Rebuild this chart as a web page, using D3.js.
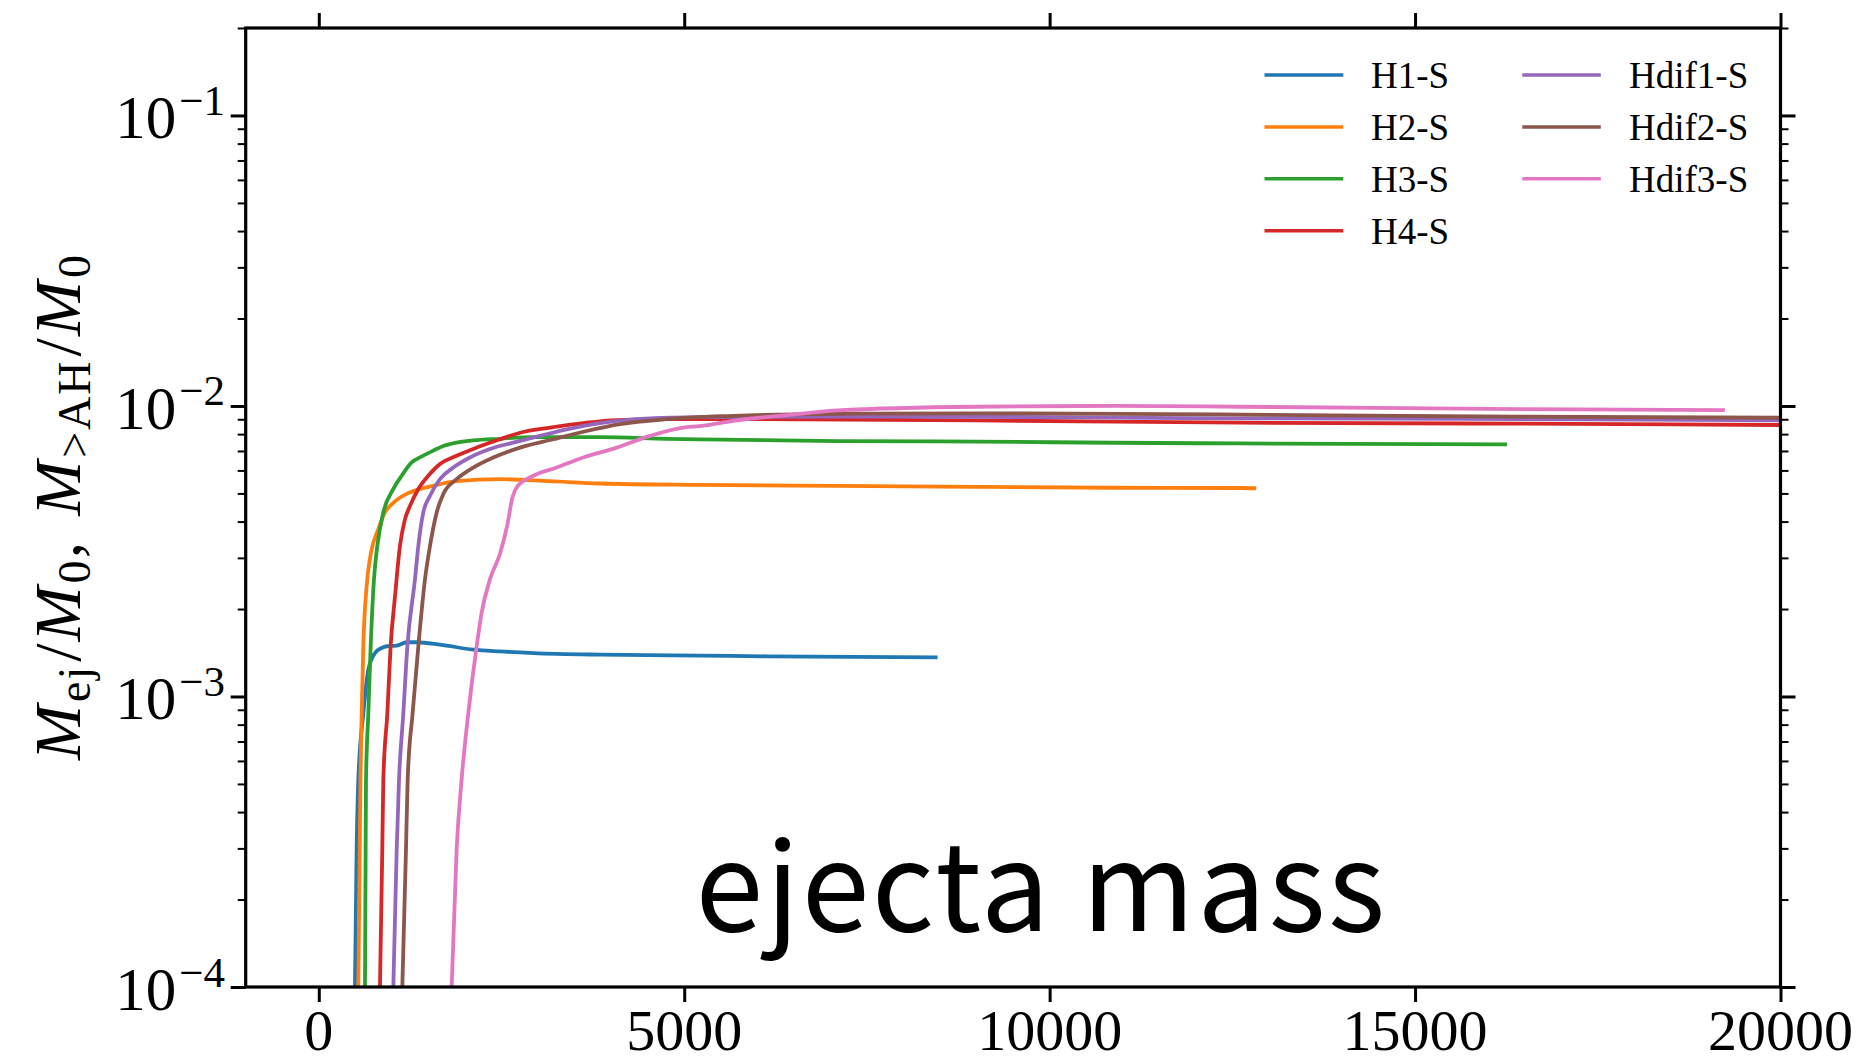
<!DOCTYPE html>
<html>
<head>
<meta charset="utf-8">
<script src="https://cdn.jsdelivr.net/npm/d3@7"></script>
<style>
  html, body { margin: 0; padding: 0; background: #ffffff; }
  svg { display: block; }
</style>
</head>
<body>
<svg id="chart" width="1865" height="1063"></svg>
<script>
// Ejecta mass fraction vs. time for the seven simulation runs.
const seriesNames = ["H1-S", "H2-S", "H3-S", "H4-S", "Hdif1-S", "Hdif2-S", "Hdif3-S"];
const seriesColors = ["#1f77b4", "#ff7f0e", "#2ca02c", "#d62728", "#9467bd", "#8c564b", "#e377c2"];

const h1Time = [495, 518, 541, 610, 678, 770, 861, 929, 1066, 1202, 1339, 1658, 2114, 2479, 2935, 3847, 5215, 6128, 8467];
const h1Mass = [1.0e-4, 2.97e-4, 5.17e-4, 8.77e-4, 1.237e-3, 1.412e-3, 1.469e-3, 1.489e-3, 1.496e-3, 1.537e-3, 1.537e-3, 1.509e-3, 1.449e-3, 1.429e-3, 1.411e-3, 1.393e-3, 1.382e-3, 1.375e-3, 1.364e-3];

const h2Time = [541, 560, 570, 587, 609, 655, 714, 815, 906, 1020, 1202, 1384, 1567, 1886, 2479, 3163, 3847, 5215, 7100, 8985, 10866, 12604, 12827];
const h2Mass = [1.0e-4, 2.97e-4, 5.17e-4, 8.77e-4, 1.489e-3, 2.40e-3, 3.12e-3, 3.77e-3, 4.30e-3, 4.64e-3, 4.98e-3, 5.18e-3, 5.31e-3, 5.51e-3, 5.60e-3, 5.51e-3, 5.41e-3, 5.35e-3, 5.31e-3, 5.27e-3, 5.23e-3, 5.22e-3, 5.21e-3];

const h3Time = [632, 641, 646, 678, 710, 755, 801, 883, 1020, 1134, 1270, 1384, 1567, 1704, 1886, 2114, 2479, 2935, 3847, 4759, 5215, 7100, 8985, 10866, 12604, 16257];
const h3Mass = [1.0e-4, 2.97e-4, 5.17e-4, 8.77e-4, 1.489e-3, 2.53e-3, 3.30e-3, 4.30e-3, 5.18e-3, 5.75e-3, 6.40e-3, 6.65e-3, 7.02e-3, 7.28e-3, 7.48e-3, 7.61e-3, 7.71e-3, 7.81e-3, 7.81e-3, 7.71e-3, 7.67e-3, 7.57e-3, 7.54e-3, 7.47e-3, 7.43e-3, 7.37e-3];

const h4Time = [837, 869, 883, 938, 983, 1043, 1111, 1179, 1248, 1362, 1498, 1658, 1886, 2160, 2479, 2753, 3163, 3619, 4075, 4759, 6583, 8985, 10866, 12604, 16404, 20000];
const h4Mass = [1.0e-4, 2.97e-4, 5.17e-4, 8.77e-4, 1.489e-3, 2.21e-3, 3.30e-3, 4.07e-3, 4.53e-3, 5.18e-3, 5.75e-3, 6.31e-3, 6.74e-3, 7.19e-3, 7.68e-3, 8.09e-3, 8.43e-3, 8.73e-3, 8.94e-3, 9.01e-3, 9.00e-3, 8.92e-3, 8.83e-3, 8.76e-3, 8.69e-3, 8.60e-3];

const hdif1Time = [1020, 1066, 1098, 1157, 1212, 1316, 1362, 1430, 1522, 1658, 1840, 2068, 2342, 2661, 3026, 3391, 3847, 4531, 5215, 7100, 8985, 10866, 12604, 16404, 20000];
const hdif1Mass = [1.0e-4, 2.97e-4, 5.17e-4, 8.77e-4, 1.489e-3, 2.53e-3, 3.30e-3, 4.30e-3, 4.91e-3, 5.60e-3, 6.14e-3, 6.65e-3, 7.11e-3, 7.48e-3, 7.89e-3, 8.31e-3, 8.73e-3, 9.06e-3, 9.15e-3, 9.19e-3, 9.18e-3, 9.12e-3, 9.07e-3, 9.02e-3, 8.92e-3];

const hdif2Time = [1143, 1193, 1216, 1284, 1362, 1453, 1522, 1613, 1704, 1886, 2114, 2388, 2753, 3209, 3665, 4121, 4759, 5671, 7100, 8985, 10866, 12604, 16404, 20000];
const hdif2Mass = [1.0e-4, 2.97e-4, 5.17e-4, 8.77e-4, 1.489e-3, 2.53e-3, 3.30e-3, 4.30e-3, 4.98e-3, 5.60e-3, 6.14e-3, 6.65e-3, 7.19e-3, 7.68e-3, 8.20e-3, 8.66e-3, 9.01e-3, 9.25e-3, 9.40e-3, 9.43e-3, 9.40e-3, 9.34e-3, 9.19e-3, 9.11e-3];

const hdif3Time = [1818, 1886, 1954, 2046, 2160, 2228, 2342, 2479, 2580, 2650, 2720, 2935, 3254, 3619, 4075, 4531, 4987, 5215, 5671, 6583, 7100, 8985, 10866, 12604, 16404, 19239];
const hdif3Mass = [1.0e-4, 2.97e-4, 5.17e-4, 8.77e-4, 1.489e-3, 1.94e-3, 2.53e-3, 3.10e-3, 3.90e-3, 4.85e-3, 5.30e-3, 5.75e-3, 6.14e-3, 6.65e-3, 7.19e-3, 7.89e-3, 8.43e-3, 8.52e-3, 8.89e-3, 9.39e-3, 9.66e-3, 9.94e-3, 1.0e-2, 9.94e-3, 9.76e-3, 9.68e-3];

const seriesTimes = [h1Time, h2Time, h3Time, h4Time, hdif1Time, hdif2Time, hdif3Time];
const seriesMasses = [h1Mass, h2Mass, h3Mass, h4Mass, hdif1Mass, hdif2Mass, hdif3Mass];

const xDomain = [-1000, 20000];
const yDomain = [1e-4, 0.2];
const xTickValues = [0, 5000, 10000, 15000, 20000];
const xTickLabels = ["0", "5000", "10000", "15000", "20000"];
const yTickValues = [1e-4, 1e-3, 1e-2, 1e-1];
const yTickExponents = ["\u22124", "\u22123", "\u22122", "\u22121"];
const annotation = "ejecta mass";

// ---- layout ----
const plot = { left: 245.7, right: 1780.5, top: 28, bottom: 987 };
const serif = "'Liberation Serif', 'Times New Roman', serif";

const svg = d3.select("#chart");
svg.append("rect").attr("width", 1865).attr("height", 1063).attr("fill", "#ffffff");

const x = d3.scaleLinear().domain(xDomain).range([plot.left, plot.right]);
const y = d3.scaleLog().domain(yDomain).range([plot.bottom, plot.top]);

svg.append("defs").append("clipPath").attr("id", "plotClip")
  .append("rect")
  .attr("x", plot.left).attr("y", plot.top)
  .attr("width", plot.right - plot.left).attr("height", plot.bottom - plot.top);

// ---- series lines ----
const line = d3.line()
  .x(d => x(d[0]))
  .y(d => y(d[1]))
  .curve(d3.curveMonotoneX);

const lines = svg.append("g").attr("clip-path", "url(#plotClip)");
seriesNames.forEach((name, i) => {
  const pts = seriesTimes[i].map((t, k) => [t, seriesMasses[i][k]]);
  lines.append("path")
    .datum(pts)
    .attr("d", line)
    .attr("fill", "none")
    .attr("stroke", seriesColors[i])
    .attr("stroke-width", 3.8)
    .attr("stroke-linejoin", "round")
    .attr("stroke-linecap", "butt");
});

// ---- annotation ----
svg.append("text")
  .attr("x", 1041.6)
  .attr("y", 931)
  .attr("text-anchor", "middle")
  .attr("font-family", "'Noto Sans CJK JP', 'Noto Sans', sans-serif")
  .attr("font-size", 122)
  .attr("letter-spacing", 2.5)
  .attr("fill", "#000")
  .text(annotation);

// ---- minor log ticks ----
const yMinor = [];
for (let e = -4; e <= -1; e++) {
  for (let m = 2; m <= 9; m++) {
    const v = m * Math.pow(10, e);
    if (v <= yDomain[1] * 1.0001) yMinor.push(v);
  }
}

function styleAxis(g, width) {
  g.select(".domain").remove();
  g.selectAll(".tick line").attr("stroke", "#000").attr("stroke-width", width);
  g.selectAll(".tick text").remove();
}

// bottom
svg.append("g").attr("transform", `translate(0,${plot.bottom})`)
  .call(d3.axisBottom(x).tickValues(xTickValues).tickSize(15).tickSizeOuter(0).tickFormat(""))
  .call(g => styleAxis(g, 3));
// top
svg.append("g").attr("transform", `translate(0,${plot.top})`)
  .call(d3.axisTop(x).tickValues(xTickValues).tickSize(15).tickSizeOuter(0).tickFormat(""))
  .call(g => styleAxis(g, 3));
// left
svg.append("g").attr("transform", `translate(${plot.left},0)`)
  .call(d3.axisLeft(y).tickValues(yTickValues).tickSize(15).tickSizeOuter(0).tickFormat(""))
  .call(g => styleAxis(g, 3));
svg.append("g").attr("transform", `translate(${plot.left},0)`)
  .call(d3.axisLeft(y).tickValues(yMinor).tickSize(8).tickSizeOuter(0).tickFormat(""))
  .call(g => styleAxis(g, 2));
// right
svg.append("g").attr("transform", `translate(${plot.right},0)`)
  .call(d3.axisRight(y).tickValues(yTickValues).tickSize(15).tickSizeOuter(0).tickFormat(""))
  .call(g => styleAxis(g, 3));
svg.append("g").attr("transform", `translate(${plot.right},0)`)
  .call(d3.axisRight(y).tickValues(yMinor).tickSize(8).tickSizeOuter(0).tickFormat(""))
  .call(g => styleAxis(g, 2));

// frame
svg.append("rect")
  .attr("x", plot.left).attr("y", plot.top)
  .attr("width", plot.right - plot.left).attr("height", plot.bottom - plot.top)
  .attr("fill", "none").attr("stroke", "#000").attr("stroke-width", 3.2);

// ---- tick labels ----
svg.append("g").selectAll("text")
  .data(xTickValues)
  .join("text")
  .attr("x", d => x(d))
  .attr("y", 1050)
  .attr("text-anchor", "middle")
  .attr("font-family", serif)
  .attr("font-size", 58)
  .attr("fill", "#000")
  .text((d, i) => xTickLabels[i]);

const yLab = svg.append("g").selectAll("text")
  .data(yTickValues)
  .join("text")
  .attr("x", 225)
  .attr("y", d => y(d) + 22.8)
  .attr("text-anchor", "end")
  .attr("font-family", serif)
  .attr("font-size", 61)
  .attr("fill", "#000");
yLab.append("tspan").text("10");
yLab.append("tspan")
  .attr("font-size", 43)
  .attr("dx", 3)
  .attr("dy", -23.3)
  .text((d, i) => yTickExponents[i]);

// ---- y axis title ----
const yTitle = svg.append("text")
  .attr("transform", `translate(80,${(plot.top + plot.bottom) / 2}) rotate(-90)`)
  .attr("text-anchor", "middle")
  .attr("font-family", serif)
  .attr("font-size", 66)
  .attr("textLength", 505)
  .attr("lengthAdjust", "spacing")
  .attr("fill", "#000");
const sub = 10, subSize = 46;
const titleParts = [
  { t: "M", it: true },
  { t: "ej", size: subSize, dy: sub, dx: 1 },
  { t: "/", dy: -sub, dx: 3 },
  { t: "M", it: true },
  { t: "0", size: subSize, dy: sub, dx: 1 },
  { t: ",", dy: -sub },
  { t: "M", it: true, dx: 24 },
  { t: ">AH", size: subSize, dy: sub, dx: 1 },
  { t: "/", dy: -sub, dx: 3 },
  { t: "M", it: true },
  { t: "0", size: subSize, dy: sub, dx: 1 }
];
titleParts.forEach(p => {
  const ts = yTitle.append("tspan").text(p.t);
  if (p.it) ts.attr("font-style", "italic");
  if (p.size) ts.attr("font-size", p.size);
  if (p.dy) ts.attr("dy", p.dy);
  if (p.dx) ts.attr("dx", p.dx);
});

// ---- legend ----
const legendCols = [
  { lineX0: 1264.5, lineX1: 1343.3, textX: 1371 },
  { lineX0: 1522.3, lineX1: 1600.8, textX: 1629 }
];
const legendRow0 = 75, legendRowStep = 51.9;
const legend = svg.append("g");
seriesNames.forEach((name, i) => {
  const col = i < 4 ? 0 : 1;
  const row = i < 4 ? i : i - 4;
  const ly = legendRow0 + row * legendRowStep;
  const c = legendCols[col];
  legend.append("line")
    .attr("x1", c.lineX0).attr("x2", c.lineX1)
    .attr("y1", ly).attr("y2", ly)
    .attr("stroke", seriesColors[i])
    .attr("stroke-width", 3.5);
  legend.append("text")
    .attr("x", c.textX)
    .attr("y", ly + 13.3)
    .attr("font-family", serif)
    .attr("font-size", 37)
    .attr("fill", "#000")
    .text(name);
});
</script>
</body>
</html>
